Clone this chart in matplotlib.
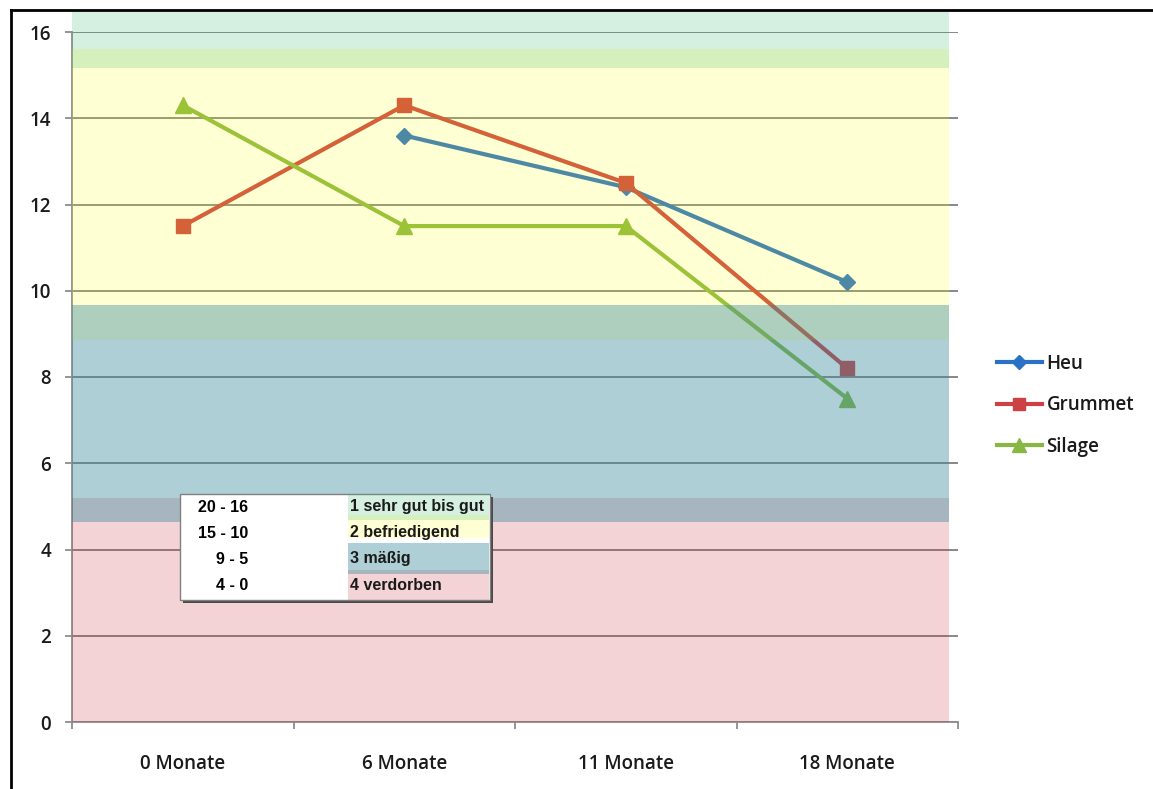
import numpy as np
import matplotlib
matplotlib.use("Agg")
import matplotlib.pyplot as plt
from matplotlib.patches import Rectangle
from matplotlib.lines import Line2D

plt.rcParams['font.family'] = ['Open Sans', 'DejaVu Sans']

# Lagerdauer und Punktzahlen
monate = ['0 Monate', '6 Monate', '11 Monate', '18 Monate']
heu = [np.nan, 13.6, 12.4, 10.2]
grummet = [11.5, 14.3, 12.5, 8.2]
silage = [14.3, 11.5, 11.5, 7.5]

# Bewertungsbereiche (untere, obere Grenze) und Farben
band_lo = [15.17, 8.86, 4.64, 0.0]
band_hi = [16.46, 15.6, 9.67, 5.19]
band_col = ['#2db464', '#ffff00', '#37899d', '#c32332']
band_alpha = [0.2, 0.17, 0.4, 0.2]
band_z = [4.4, 4.2, 4.3, 4.1]
punkte = ['20 - 16', '15 - 10', '9 - 5', '4 - 0']
noten = ['1 sehr gut bis gut', '2 befriedigend', '3 mäßig', '4 verdorben']

narrow = ['Liberation Sans Narrow', 'Liberation Sans', 'DejaVu Sans']

fig = plt.figure(figsize=(11.53, 7.89), dpi=100)
ax = fig.add_axes([72/1153, 1 - 722/789, 886/1153, 690/789])

x = np.arange(len(monate))
ax.plot(x, heu, color='#2a72c6', lw=3, marker='D', ms=8, zorder=3, label='Heu')
ax.plot(x, grummet, color='#cc4244', lw=3, marker='s', ms=10, zorder=3, label='Grummet')
ax.plot(x, silage, color='#88b744', lw=3, marker='^', ms=11, zorder=3, label='Silage')

# halbtransparente Bereiche über den Linien
for lo, hi, c, a, z in zip(band_lo, band_hi, band_col, band_alpha, band_z):
    ax.add_patch(Rectangle((-0.5, lo), 3.96, hi - lo, facecolor=c, alpha=a,
                           lw=0, zorder=z, clip_on=False))

ax.set_xlim(-0.5, 3.5)
ax.set_ylim(0, 16)
ax.set_yticks(np.arange(0, 17, 2))
ax.set_xticks(x)
ax.set_xticklabels(monate)
ax.set_xticks(np.arange(-0.5, 3.6, 1), minor=True)
ax.yaxis.grid(True, color='#7f7f7f', lw=1.3, zorder=2)
ax.set_axisbelow(True)
for s in ['top', 'right']:
    ax.spines[s].set_visible(False)
for s in ['left', 'bottom']:
    ax.spines[s].set_color('#8c8c8c')
    ax.spines[s].set_linewidth(1.3)
ax.tick_params(axis='y', length=5, width=1.3, color='#8c8c8c', pad=10, labelsize=13.5,
               labelcolor='#1a1a1a')
ax.tick_params(axis='x', which='major', length=0, pad=23, labelsize=13.5,
               labelcolor='#1a1a1a')
ax.tick_params(axis='x', which='minor', length=5, width=1.3, color='#8c8c8c')
for lab in ax.get_xticklabels() + ax.get_yticklabels():
    lab.set_fontweight('semibold')

leg = fig.legend(handles=ax.get_lines(), loc='upper left',
                 bbox_to_anchor=(980/1153, 1 - 337/789),
                 frameon=False, fontsize=13.5, handlelength=2.4, labelspacing=1.15,
                 handletextpad=0.25, markerscale=0.9)
for t in leg.get_texts():
    t.set_fontweight('semibold')
    t.set_color('#1a1a1a')

# Rahmen links und oben
fig.add_artist(Line2D([11/1153, 11/1153], [0, 1 - 10/789], transform=fig.transFigure,
                      color='black', lw=2))
fig.add_artist(Line2D([11/1153, 1], [1 - 10/789, 1 - 10/789], transform=fig.transFigure,
                      color='black', lw=2))

# Bewertungstabelle
bx = fig.add_axes([180/1153, 1 - 600/789, 310/1153, 106/789], zorder=5)
bx.set_xlim(0, 310)
bx.set_ylim(106, 0)
bx.axis('off')
bx.add_patch(Rectangle((3, 3), 310, 106, facecolor='#4a4a4a', lw=0, clip_on=False))
bx.add_patch(Rectangle((0, 0), 310, 106, facecolor='white', edgecolor='#808080',
                       lw=1, clip_on=False))
cell_top = [0, 21, 49, 76]
cell_h = [26, 23, 31, 30]
for i in range(4):
    bx.add_patch(Rectangle((168, cell_top[i]), 141, cell_h[i], facecolor=band_col[i],
                           alpha=band_alpha[i], lw=0, zorder=band_z[i]))
    y = 13 + i * 26
    bx.text(68, y, punkte[i], ha='right', va='center', fontsize=11.5, fontweight='bold',
            family=narrow, zorder=6)
    bx.text(170, y, noten[i], ha='left', va='center', fontsize=11.5, fontweight='bold',
            color='#1a1a1a', family=narrow, zorder=6)

fig.savefig('out.png', dpi=100)
